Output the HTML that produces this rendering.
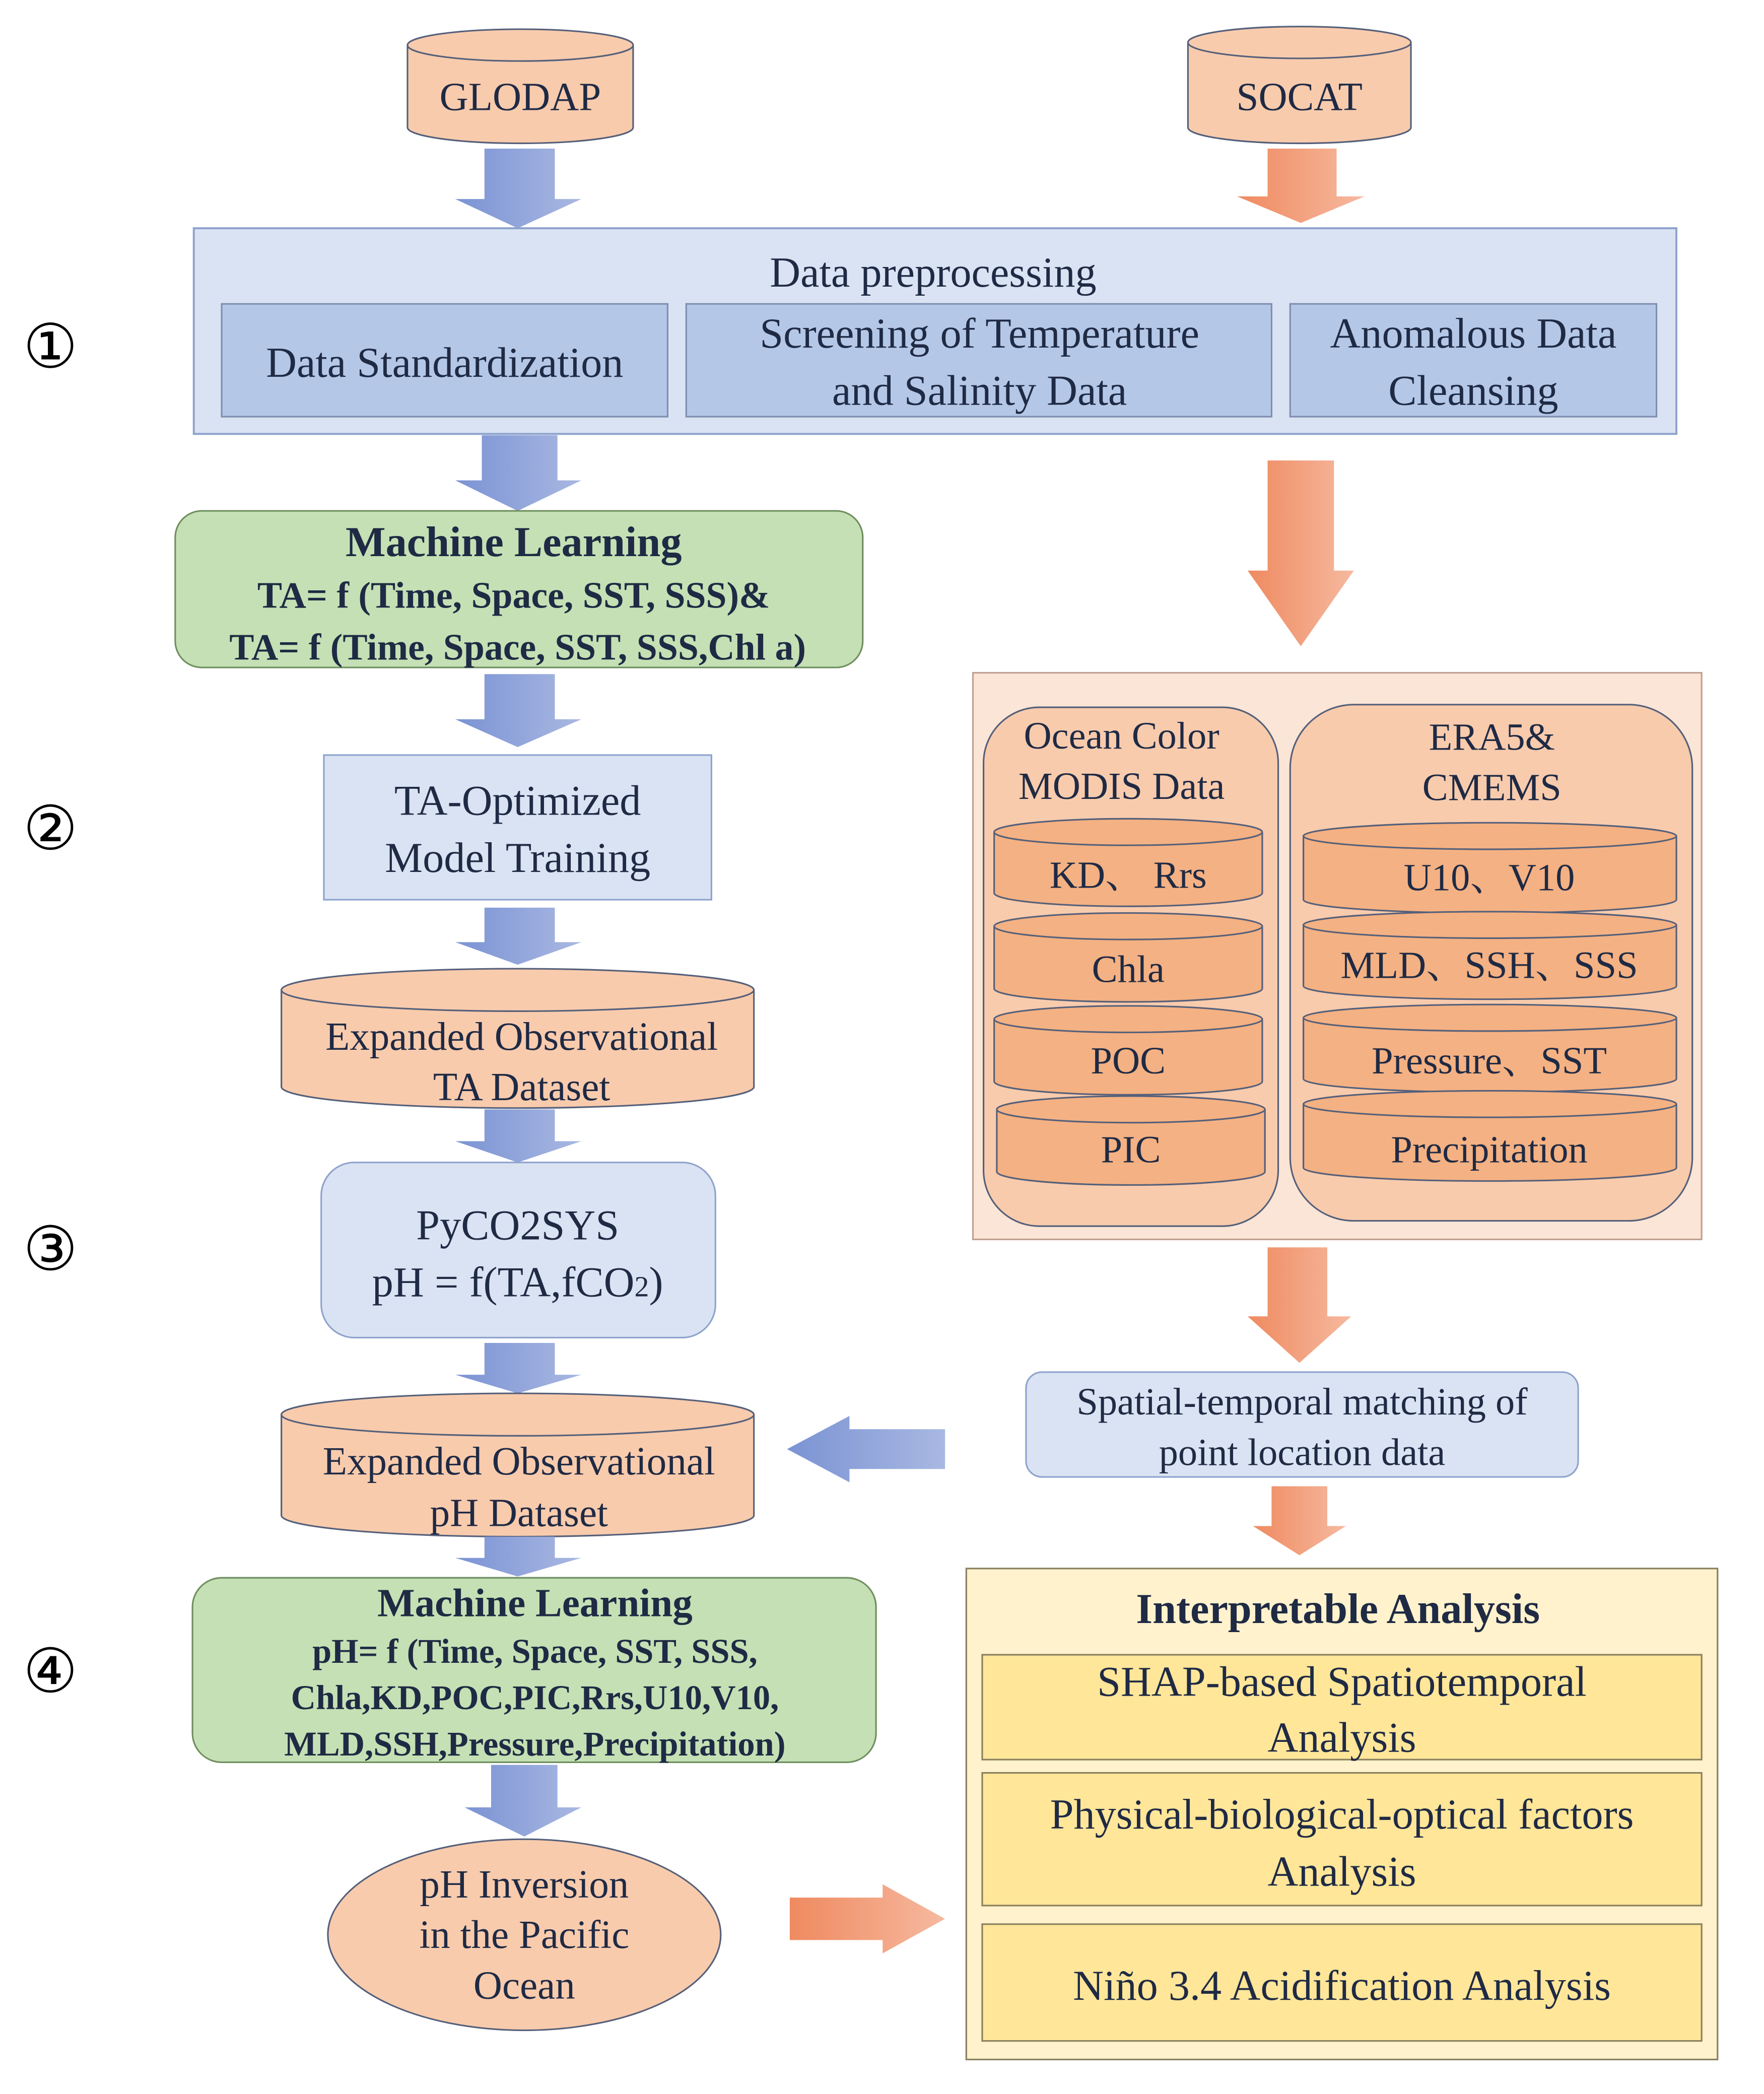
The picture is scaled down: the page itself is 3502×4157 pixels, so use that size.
<!DOCTYPE html>
<html><head><meta charset="utf-8">
<style>
html,body{margin:0;padding:0;background:#fff;}
svg{display:block;}
text{font-family:"Liberation Serif","Noto Serif CJK SC",serif;fill:#1f2a44;}
.b{font-weight:bold;}
.num{font-family:"DejaVu Sans","Liberation Sans",sans-serif;fill:#000;}
</style></head><body>
<svg width="3502" height="4157" viewBox="0 0 1329 1578" preserveAspectRatio="none" xmlns="http://www.w3.org/2000/svg">
<defs>
<linearGradient id="bl" x1="0" x2="1" y1="0" y2="0"><stop offset="0" stop-color="#7b93d4"/><stop offset="1" stop-color="#a9b8e2"/></linearGradient>
<linearGradient id="or" x1="0" x2="1" y1="0" y2="0"><stop offset="0" stop-color="#ef8a60"/><stop offset="1" stop-color="#f6b99f"/></linearGradient>
<linearGradient id="blh" x1="0" x2="1" y1="0" y2="0"><stop offset="0" stop-color="#7b93d4"/><stop offset="1" stop-color="#a9b8e2"/></linearGradient>
</defs>

<!-- circled numbers -->
<text class="num" x="38" y="277" font-size="46" text-anchor="middle">①</text>
<text class="num" x="38" y="640" font-size="46" text-anchor="middle">②</text>
<text class="num" x="38" y="957" font-size="46" text-anchor="middle">③</text>
<text class="num" x="38" y="1275" font-size="46" text-anchor="middle">④</text>

<!-- GLODAP cylinder -->
<path d="M307,34 L307,96 A85,12 0 0 0 477,96 L477,34" fill="#f8cbad" stroke="#55607a" stroke-width="1.2"/>
<ellipse cx="392" cy="34" rx="85" ry="12" fill="#f8cbad" stroke="#55607a" stroke-width="1.2"/>
<text x="392" y="83" font-size="30" text-anchor="middle">GLODAP</text>
<!-- SOCAT cylinder -->
<path d="M895,32 L895,96 A84,12 0 0 0 1063,96 L1063,32" fill="#f8cbad" stroke="#55607a" stroke-width="1.2"/>
<ellipse cx="979" cy="32" rx="84" ry="12" fill="#f8cbad" stroke="#55607a" stroke-width="1.2"/>
<text x="979" y="83" font-size="30" text-anchor="middle">SOCAT</text>

<!-- arrows top -->
<polygon points="365,112 418,112 418,150 438,150 390,172 343,150 365,150" fill="url(#bl)"/>
<polygon points="955,112 1007,112 1007,148 1028,148 980,168 932,148 955,148" fill="url(#or)"/>

<!-- preprocessing -->
<rect x="146" y="172" width="1117" height="155" fill="#dae3f3" stroke="#8ea3cc" stroke-width="1.5"/>
<text x="703" y="216" font-size="32" text-anchor="middle">Data preprocessing</text>
<rect x="167" y="229" width="336" height="85" fill="#b4c7e7" stroke="#7f8fb0" stroke-width="1.2"/>
<rect x="517" y="229" width="441" height="85" fill="#b4c7e7" stroke="#7f8fb0" stroke-width="1.2"/>
<rect x="972" y="229" width="276" height="85" fill="#b4c7e7" stroke="#7f8fb0" stroke-width="1.2"/>
<text x="335" y="284" font-size="32" text-anchor="middle">Data Standardization</text>
<text x="738" y="262" font-size="32" text-anchor="middle">Screening of Temperature</text>
<text x="738" y="305" font-size="32" text-anchor="middle">and Salinity Data</text>
<text x="1110" y="262" font-size="32" text-anchor="middle">Anomalous Data</text>
<text x="1110" y="305" font-size="32" text-anchor="middle">Cleansing</text>

<!-- arrow to ML -->
<polygon points="363,328 420,328 420,362 438,362 390,385 343,362 363,362" fill="url(#bl)"/>
<!-- big orange arrow -->
<polygon points="955,347 1005,347 1005,430 1020,430 980,487 940,430 955,430" fill="url(#or)"/>

<!-- ML box 1 -->
<rect x="132" y="385" width="518" height="118" rx="20" fill="#c5e0b4" stroke="#6f8f5f" stroke-width="1.2"/>
<text class="b" x="387" y="419" font-size="32" text-anchor="middle">Machine Learning</text>
<text class="b" x="387" y="458" font-size="28" text-anchor="middle">TA= f (Time, Space, SST, SSS)&amp;</text>
<text class="b" x="390" y="497" font-size="28" text-anchor="middle">TA= f (Time, Space, SST, SSS,Chl a)</text>

<polygon points="365,508 418,508 418,542 438,542 390,563 343,542 365,542" fill="url(#bl)"/>

<!-- TA optimized -->
<rect x="244" y="569" width="292" height="109" fill="#dae3f3" stroke="#8ea3cc" stroke-width="1.2"/>
<text x="390" y="614" font-size="32" text-anchor="middle">TA-Optimized</text>
<text x="390" y="657" font-size="32" text-anchor="middle">Model Training</text>

<polygon points="365,684 418,684 418,710 438,710 390,727 343,710 365,710" fill="url(#bl)"/>

<!-- Expanded TA cylinder -->
<path d="M212,746 L212,819 A178,16 0 0 0 568,819 L568,746" fill="#f8cbad" stroke="#55607a" stroke-width="1.2"/>
<ellipse cx="390" cy="746" rx="178" ry="16" fill="#f8cbad" stroke="#55607a" stroke-width="1.2"/>
<text x="393" y="791" font-size="30" text-anchor="middle">Expanded Observational</text>
<text x="393" y="829" font-size="30" text-anchor="middle">TA Dataset</text>

<polygon points="365,836 418,836 418,860 438,860 390,876 343,860 365,860" fill="url(#bl)"/>

<!-- PyCO2SYS -->
<rect x="242" y="876" width="297" height="132" rx="25" fill="#dae3f3" stroke="#8ea3cc" stroke-width="1.2"/>
<text x="390" y="934" font-size="32" text-anchor="middle">PyCO2SYS</text>
<text x="390" y="977" font-size="32" text-anchor="middle">pH = f(TA,fCO<tspan font-size="22">2</tspan>)</text>

<polygon points="365,1012 418,1012 418,1036 438,1036 390,1050 343,1036 365,1036" fill="url(#bl)"/>

<!-- Expanded pH cylinder -->
<path d="M212,1066 L212,1142 A178,16 0 0 0 568,1142 L568,1066" fill="#f8cbad" stroke="#55607a" stroke-width="1.2"/>
<ellipse cx="390" cy="1066" rx="178" ry="16" fill="#f8cbad" stroke="#55607a" stroke-width="1.2"/>
<text x="391" y="1111" font-size="30" text-anchor="middle">Expanded Observational</text>
<text x="391" y="1150" font-size="30" text-anchor="middle">pH Dataset</text>

<polygon points="365,1158 418,1158 418,1174 438,1174 390,1188 343,1174 365,1174" fill="url(#bl)"/>

<!-- ML box 2 -->
<rect x="145" y="1189" width="515" height="139" rx="22" fill="#c5e0b4" stroke="#6f8f5f" stroke-width="1.2"/>
<text class="b" x="403" y="1218" font-size="30" text-anchor="middle">Machine Learning</text>
<text class="b" x="403" y="1253" font-size="26" text-anchor="middle">pH= f (Time, Space, SST, SSS,</text>
<text class="b" x="403" y="1288" font-size="26" text-anchor="middle">Chla,KD,POC,PIC,Rrs,U10,V10,</text>
<text class="b" x="403" y="1323" font-size="26" text-anchor="middle">MLD,SSH,Pressure,Precipitation)</text>

<polygon points="370,1330 420,1330 420,1362 438,1362 395,1384 350,1362 370,1362" fill="url(#bl)"/>

<!-- ellipse -->
<ellipse cx="395" cy="1458" rx="148" ry="72" fill="#f8cbad" stroke="#55607a" stroke-width="1.2"/>
<text x="395" y="1430" font-size="30" text-anchor="middle">pH Inversion</text>
<text x="395" y="1468" font-size="30" text-anchor="middle">in the Pacific</text>
<text x="395" y="1506" font-size="30" text-anchor="middle">Ocean</text>

<!-- orange right arrow -->
<polygon points="595,1430 665,1430 665,1420 712,1446 665,1472 665,1462 595,1462" fill="url(#or)"/>
<!-- blue left arrow -->
<polygon points="712,1077 640,1077 640,1067 593,1092 640,1117 640,1107 712,1107" fill="url(#blh)"/>

<!-- right data panel -->
<rect x="733" y="507" width="549" height="427" fill="#fbe5d6" stroke="#c0a090" stroke-width="1.2"/>
<rect x="741" y="533" width="222" height="391" rx="42" fill="#f8cbad" stroke="#55607a" stroke-width="1.2"/>
<rect x="972" y="531" width="303" height="389" rx="48" fill="#f8cbad" stroke="#55607a" stroke-width="1.2"/>
<text x="845" y="564" font-size="29" text-anchor="middle">Ocean Color</text>
<text x="845" y="602" font-size="29" text-anchor="middle">MODIS Data</text>
<text x="1124" y="565" font-size="29" text-anchor="middle">ERA5&amp;</text>
<text x="1124" y="603" font-size="29" text-anchor="middle">CMEMS</text>

<g fill="#f4b183" stroke="#55607a" stroke-width="1.2">
<path d="M749,627 L749,673 A101,10 0 0 0 951,673 L951,627"/><ellipse cx="850" cy="627" rx="101" ry="10"/>
<path d="M749,698 L749,745 A101,10 0 0 0 951,745 L951,698"/><ellipse cx="850" cy="698" rx="101" ry="10"/>
<path d="M749,768 L749,815 A101,10 0 0 0 951,815 L951,768"/><ellipse cx="850" cy="768" rx="101" ry="10"/>
<path d="M751,836 L751,883 A101,10 0 0 0 953,883 L953,836"/><ellipse cx="852" cy="836" rx="101" ry="10"/>
<path d="M982,630 L982,678 A140.5,10 0 0 0 1263,678 L1263,630"/><ellipse cx="1122.5" cy="630" rx="140.5" ry="10"/>
<path d="M982,697 L982,743 A140.5,10 0 0 0 1263,743 L1263,697"/><ellipse cx="1122.5" cy="697" rx="140.5" ry="10"/>
<path d="M982,767 L982,813 A140.5,10 0 0 0 1263,813 L1263,767"/><ellipse cx="1122.5" cy="767" rx="140.5" ry="10"/>
<path d="M982,832 L982,880 A140.5,10 0 0 0 1263,880 L1263,832"/><ellipse cx="1122.5" cy="832" rx="140.5" ry="10"/>
</g>
<text x="850" y="669" font-size="29" text-anchor="middle">KD、 Rrs</text>
<text x="850" y="740" font-size="29" text-anchor="middle">Chla</text>
<text x="850" y="809" font-size="29" text-anchor="middle">POC</text>
<text x="852" y="876" font-size="29" text-anchor="middle">PIC</text>
<text x="1122" y="671" font-size="29" text-anchor="middle">U10、V10</text>
<text x="1122" y="737" font-size="29" text-anchor="middle">MLD、SSH、SSS</text>
<text x="1122" y="809" font-size="29" text-anchor="middle">Pressure、SST</text>
<text x="1122" y="876" font-size="29" text-anchor="middle">Precipitation</text>

<polygon points="955,940 1000,940 1000,992 1018,992 979,1027 940,992 955,992" fill="url(#or)"/>

<!-- spatial matching -->
<rect x="773" y="1034" width="416" height="79" rx="12" fill="#dae3f3" stroke="#8ea3cc" stroke-width="1.2"/>
<text x="981" y="1066" font-size="29" text-anchor="middle">Spatial-temporal matching of</text>
<text x="981" y="1104" font-size="29" text-anchor="middle">point location data</text>

<polygon points="958,1120 1000,1120 1000,1150 1014,1150 979,1172 944,1150 958,1150" fill="url(#or)"/>

<!-- interpretable analysis -->
<rect x="728" y="1182" width="566" height="370" fill="#fff2cc" stroke="#8a8060" stroke-width="1.2"/>
<text class="b" x="1008" y="1223" font-size="32" text-anchor="middle">Interpretable Analysis</text>
<rect x="740" y="1247" width="542" height="79" fill="#ffe699" stroke="#8a8060" stroke-width="1.2"/>
<rect x="740" y="1336" width="542" height="100" fill="#ffe699" stroke="#8a8060" stroke-width="1.2"/>
<rect x="740" y="1450" width="542" height="88" fill="#ffe699" stroke="#8a8060" stroke-width="1.2"/>
<text x="1011" y="1278" font-size="32" text-anchor="middle">SHAP-based Spatiotemporal</text>
<text x="1011" y="1320" font-size="32" text-anchor="middle">Analysis</text>
<text x="1011" y="1378" font-size="32" text-anchor="middle">Physical-biological-optical factors</text>
<text x="1011" y="1421" font-size="32" text-anchor="middle">Analysis</text>
<text x="1011" y="1507" font-size="32" text-anchor="middle">Niño 3.4 Acidification Analysis</text>
</svg>
</body></html>
